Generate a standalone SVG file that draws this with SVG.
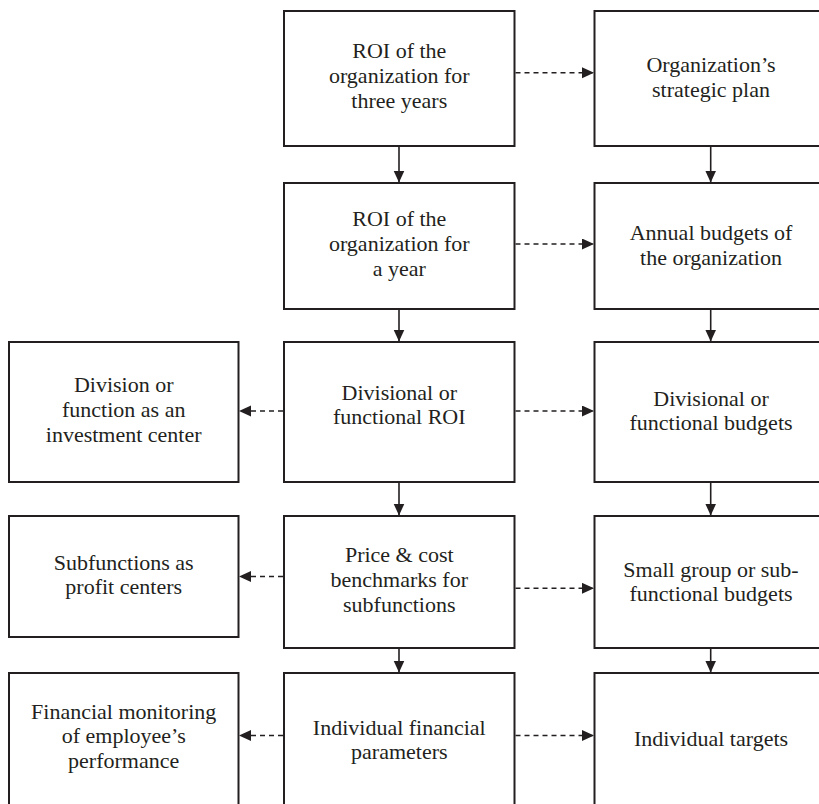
<svg xmlns="http://www.w3.org/2000/svg" width="819" height="804" viewBox="0 0 819 804">
  <style>
    .box { fill: #ffffff; stroke: #231f20; stroke-width: 2; }
    .lbl { font-family: "Liberation Serif", "Times New Roman", serif; font-size: 22px; fill: #231f20; text-anchor: middle; }
    .solid { stroke: #231f20; stroke-width: 1.6; fill: none; }
    .dash { stroke: #231f20; stroke-width: 1.6; fill: none; stroke-dasharray: 5 4; }
  </style>
  <defs>
    <marker id="head" markerUnits="userSpaceOnUse" markerWidth="13" markerHeight="12" refX="12" refY="5.5" orient="auto">
      <path d="M0,0 L12,5.5 L0,11 Z" fill="#231f20"/>
    </marker>
  </defs>
  <rect width="819" height="804" fill="#ffffff"/>

  <!-- middle column -->
  <g id="roi-three-years">
    <rect class="box" x="284" y="11" width="230.5" height="135"/>
    <text class="lbl"><tspan x="399.3" y="58">ROI of the</tspan><tspan x="399.3" y="83">organization for</tspan><tspan x="399.3" y="108">three years</tspan></text>
  </g>
  <g id="roi-year">
    <rect class="box" x="284" y="183" width="230.5" height="126"/>
    <text class="lbl"><tspan x="399.3" y="226">ROI of the</tspan><tspan x="399.3" y="251">organization for</tspan><tspan x="399.3" y="276">a year</tspan></text>
  </g>
  <g id="divisional-roi">
    <rect class="box" x="284" y="342" width="230.5" height="140"/>
    <text class="lbl"><tspan x="399.3" y="400">Divisional or</tspan><tspan x="399.3" y="424">functional ROI</tspan></text>
  </g>
  <g id="benchmarks">
    <rect class="box" x="284" y="516" width="230.5" height="132"/>
    <text class="lbl"><tspan x="399.3" y="562">Price &amp; cost</tspan><tspan x="399.3" y="587">benchmarks for</tspan><tspan x="399.3" y="612">subfunctions</tspan></text>
  </g>
  <g id="individual-parameters">
    <rect class="box" x="284" y="673" width="230.5" height="140"/>
    <text class="lbl"><tspan x="399.3" y="735">Individual financial</tspan><tspan x="399.3" y="759">parameters</tspan></text>
  </g>

  <!-- right column -->
  <g id="strategic-plan">
    <rect class="box" x="594.5" y="11" width="236" height="135"/>
    <text class="lbl"><tspan x="711" y="72">Organization’s</tspan><tspan x="711" y="97">strategic plan</tspan></text>
  </g>
  <g id="annual-budgets">
    <rect class="box" x="594.5" y="183" width="236" height="126"/>
    <text class="lbl"><tspan x="711" y="240">Annual budgets of</tspan><tspan x="711" y="265">the organization</tspan></text>
  </g>
  <g id="divisional-budgets">
    <rect class="box" x="594.5" y="342" width="236" height="140"/>
    <text class="lbl"><tspan x="711" y="406">Divisional or</tspan><tspan x="711" y="430">functional budgets</tspan></text>
  </g>
  <g id="subfunctional-budgets">
    <rect class="box" x="594.5" y="516" width="236" height="132"/>
    <text class="lbl"><tspan x="711" y="577">Small group or sub-</tspan><tspan x="711" y="601">functional budgets</tspan></text>
  </g>
  <g id="individual-targets">
    <rect class="box" x="594.5" y="673" width="236" height="140"/>
    <text class="lbl"><tspan x="711" y="746">Individual targets</tspan></text>
  </g>

  <!-- left column -->
  <g id="investment-center">
    <rect class="box" x="9" y="342" width="229.5" height="140"/>
    <text class="lbl"><tspan x="123.7" y="392">Division or</tspan><tspan x="123.7" y="417">function as an</tspan><tspan x="123.7" y="442">investment center</tspan></text>
  </g>
  <g id="profit-centers">
    <rect class="box" x="9" y="516" width="229.5" height="121"/>
    <text class="lbl"><tspan x="123.7" y="570">Subfunctions as</tspan><tspan x="123.7" y="594">profit centers</tspan></text>
  </g>
  <g id="employee-monitoring">
    <rect class="box" x="9" y="673" width="229.5" height="140"/>
    <text class="lbl"><tspan x="123.7" y="719">Financial monitoring</tspan><tspan x="123.7" y="743">of employee’s</tspan><tspan x="123.7" y="768">performance</tspan></text>
  </g>

  <!-- connectors -->
  <g id="connectors">
    <!-- vertical flow, middle column -->
    <line class="solid" x1="399" y1="147" x2="399" y2="182.5" marker-end="url(#head)"/>
    <line class="solid" x1="399" y1="310" x2="399" y2="341.5" marker-end="url(#head)"/>
    <line class="solid" x1="399" y1="483" x2="399" y2="515.5" marker-end="url(#head)"/>
    <line class="solid" x1="399" y1="649" x2="399" y2="672.5" marker-end="url(#head)"/>
    <!-- vertical flow, right column -->
    <line class="solid" x1="710.7" y1="147" x2="710.7" y2="182.5" marker-end="url(#head)"/>
    <line class="solid" x1="710.7" y1="310" x2="710.7" y2="341.5" marker-end="url(#head)"/>
    <line class="solid" x1="710.7" y1="483" x2="710.7" y2="515.5" marker-end="url(#head)"/>
    <line class="solid" x1="710.7" y1="649" x2="710.7" y2="672.5" marker-end="url(#head)"/>
    <!-- dashed links to the right -->
    <line class="dash" x1="515.5" y1="72.7" x2="594" y2="72.7" marker-end="url(#head)"/>
    <line class="dash" x1="515.5" y1="244" x2="594" y2="244" marker-end="url(#head)"/>
    <line class="dash" x1="515.5" y1="411" x2="594" y2="411" marker-end="url(#head)"/>
    <line class="dash" x1="515.5" y1="588.3" x2="594" y2="588.3" marker-end="url(#head)"/>
    <line class="dash" x1="515.5" y1="735.5" x2="594" y2="735.5" marker-end="url(#head)"/>
    <!-- dashed links to the left -->
    <line class="dash" x1="283" y1="411" x2="239" y2="411" marker-end="url(#head)"/>
    <line class="dash" x1="283" y1="576.5" x2="239" y2="576.5" marker-end="url(#head)"/>
    <line class="dash" x1="283" y1="735.5" x2="239" y2="735.5" marker-end="url(#head)"/>
  </g>
</svg>
